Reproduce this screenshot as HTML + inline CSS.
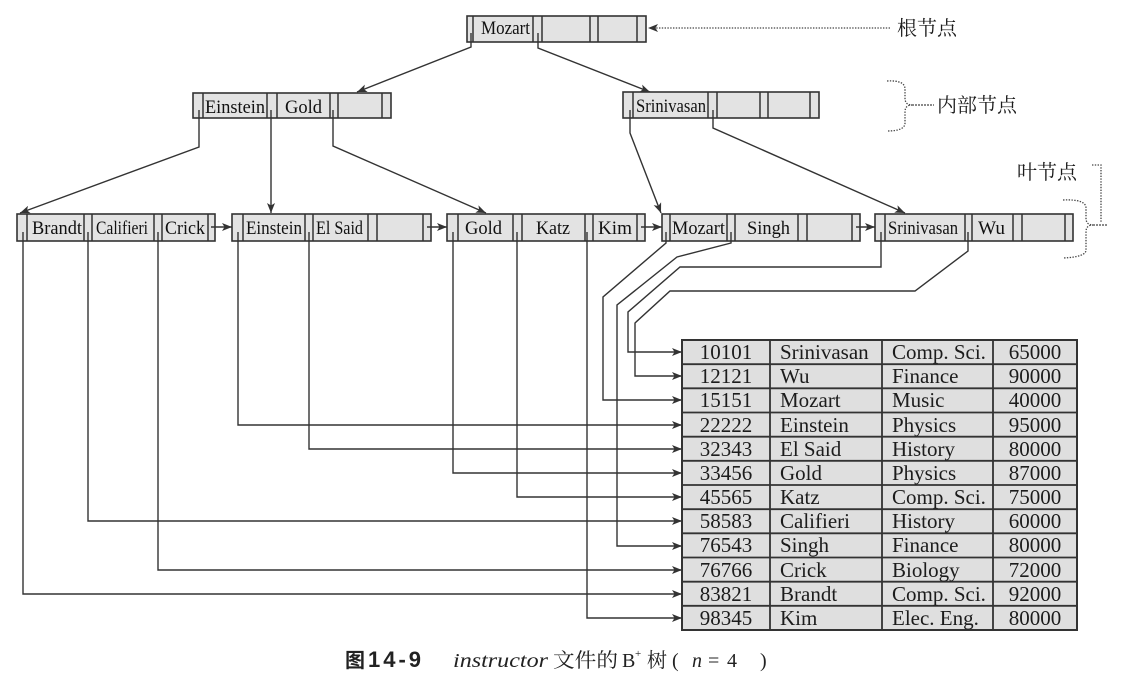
<!DOCTYPE html>
<html>
<head>
<meta charset="utf-8">
<style>
  html,body{margin:0;padding:0;background:#fff;}
  svg{display:block;}
  .k{font-family:"Liberation Serif","Noto Serif CJK SC",serif;font-size:19px;fill:#111;}
  .t{font-family:"Liberation Serif","Noto Serif CJK SC",serif;font-size:21px;fill:#1c1c1c;}
  .cj{font-family:"Liberation Serif","Noto Serif CJK SC",serif;font-size:20px;fill:#1c1c1c;}
  .nd{fill:#e3e3e3;stroke:#333;stroke-width:1.6;}
  .dv{stroke:#333;stroke-width:1.5;}
  .cn{fill:none;stroke:#333;stroke-width:1.4;}
  .dt{fill:none;stroke:#444;stroke-width:1.3;stroke-dasharray:1.4 1.4;}
</style>
</head>
<body>
<svg width="1130" height="688" viewBox="0 0 1130 688" xmlns="http://www.w3.org/2000/svg">
<defs>
  <marker id="ah" viewBox="0 0 10 8" refX="10" refY="4" markerWidth="10" markerHeight="8" markerUnits="userSpaceOnUse" orient="auto">
    <path d="M0,0 L10,4 L0,8 L2.5,4 z" fill="#333"/>
  </marker>
</defs>

<!-- Root node -->
<rect class="nd" x="467" y="16" width="179" height="26"/>
<g class="dv">
  <line x1="473" y1="16" x2="473" y2="42"/><line x1="533" y1="16" x2="533" y2="42"/>
  <line x1="542" y1="16" x2="542" y2="42"/><line x1="590" y1="16" x2="590" y2="42"/>
  <line x1="598" y1="16" x2="598" y2="42"/><line x1="637" y1="16" x2="637" y2="42"/>
</g>
<text class="k" x="481" y="34" textLength="49" lengthAdjust="spacingAndGlyphs">Mozart</text>

<!-- root label -->
<line class="dt" x1="890" y1="28" x2="656" y2="28"/>
<path d="M648,28 L658,24 L655.5,28 L658,32 z" fill="#333"/>
<text class="cj" x="897" y="35">根节点</text>

<!-- Internal node 1 -->
<rect class="nd" x="193" y="93" width="198" height="25"/>
<g class="dv">
  <line x1="203" y1="93" x2="203" y2="118"/><line x1="267" y1="93" x2="267" y2="118"/>
  <line x1="277" y1="93" x2="277" y2="118"/><line x1="330" y1="93" x2="330" y2="118"/>
  <line x1="338" y1="93" x2="338" y2="118"/><line x1="382" y1="93" x2="382" y2="118"/>
</g>
<text class="k" x="205" y="113" textLength="60" lengthAdjust="spacingAndGlyphs">Einstein</text>
<text class="k" x="285" y="113" textLength="37" lengthAdjust="spacingAndGlyphs">Gold</text>

<!-- Internal node 2 -->
<rect class="nd" x="623" y="92" width="196" height="26"/>
<g class="dv">
  <line x1="633" y1="92" x2="633" y2="118"/><line x1="708" y1="92" x2="708" y2="118"/>
  <line x1="717" y1="92" x2="717" y2="118"/><line x1="760" y1="92" x2="760" y2="118"/>
  <line x1="768" y1="92" x2="768" y2="118"/><line x1="810" y1="92" x2="810" y2="118"/>
</g>
<text class="k" x="636" y="112" textLength="70" lengthAdjust="spacingAndGlyphs">Srinivasan</text>

<!-- internal label brace -->
<path class="dt" d="M887,81 Q905,80 905,89 L905,98 Q905,105 912,105 Q905,105 905,112 L905,123 Q905,131 887,131"/>
<line x1="912" y1="105" x2="934" y2="105" stroke="#444" stroke-width="1.2" stroke-dasharray="2 1"/>
<text class="cj" x="937" y="112">内部节点</text>

<!-- Leaf 1 -->
<rect class="nd" x="17" y="214" width="198" height="27"/>
<g class="dv">
  <line x1="27" y1="214" x2="27" y2="241"/><line x1="84" y1="214" x2="84" y2="241"/>
  <line x1="92" y1="214" x2="92" y2="241"/><line x1="154" y1="214" x2="154" y2="241"/>
  <line x1="162" y1="214" x2="162" y2="241"/><line x1="208" y1="214" x2="208" y2="241"/>
</g>
<text class="k" x="32" y="234" textLength="50" lengthAdjust="spacingAndGlyphs">Brandt</text>
<text class="k" x="96" y="234" textLength="52" lengthAdjust="spacingAndGlyphs">Califieri</text>
<text class="k" x="165" y="234" textLength="40" lengthAdjust="spacingAndGlyphs">Crick</text>

<!-- Leaf 2 -->
<rect class="nd" x="232" y="214" width="199" height="27"/>
<g class="dv">
  <line x1="243" y1="214" x2="243" y2="241"/><line x1="305" y1="214" x2="305" y2="241"/>
  <line x1="313" y1="214" x2="313" y2="241"/><line x1="368" y1="214" x2="368" y2="241"/>
  <line x1="377" y1="214" x2="377" y2="241"/><line x1="423" y1="214" x2="423" y2="241"/>
</g>
<text class="k" x="246" y="234" textLength="56" lengthAdjust="spacingAndGlyphs">Einstein</text>
<text class="k" x="316" y="234" textLength="47" lengthAdjust="spacingAndGlyphs">El Said</text>

<!-- Leaf 3 -->
<rect class="nd" x="447" y="214" width="198" height="27"/>
<g class="dv">
  <line x1="458" y1="214" x2="458" y2="241"/><line x1="513" y1="214" x2="513" y2="241"/>
  <line x1="522" y1="214" x2="522" y2="241"/><line x1="585" y1="214" x2="585" y2="241"/>
  <line x1="593" y1="214" x2="593" y2="241"/><line x1="637" y1="214" x2="637" y2="241"/>
</g>
<text class="k" x="465" y="234" textLength="37" lengthAdjust="spacingAndGlyphs">Gold</text>
<text class="k" x="536" y="234" textLength="34" lengthAdjust="spacingAndGlyphs">Katz</text>
<text class="k" x="598" y="234" textLength="34" lengthAdjust="spacingAndGlyphs">Kim</text>

<!-- Leaf 4 -->
<rect class="nd" x="662" y="214" width="198" height="27"/>
<g class="dv">
  <line x1="670" y1="214" x2="670" y2="241"/><line x1="727" y1="214" x2="727" y2="241"/>
  <line x1="735" y1="214" x2="735" y2="241"/><line x1="798" y1="214" x2="798" y2="241"/>
  <line x1="807" y1="214" x2="807" y2="241"/><line x1="852" y1="214" x2="852" y2="241"/>
</g>
<text class="k" x="672" y="234" textLength="53" lengthAdjust="spacingAndGlyphs">Mozart</text>
<text class="k" x="747" y="234" textLength="43" lengthAdjust="spacingAndGlyphs">Singh</text>

<!-- Leaf 5 -->
<rect class="nd" x="875" y="214" width="198" height="27"/>
<g class="dv">
  <line x1="885" y1="214" x2="885" y2="241"/><line x1="965" y1="214" x2="965" y2="241"/>
  <line x1="972" y1="214" x2="972" y2="241"/><line x1="1013" y1="214" x2="1013" y2="241"/>
  <line x1="1022" y1="214" x2="1022" y2="241"/><line x1="1065" y1="214" x2="1065" y2="241"/>
</g>
<text class="k" x="888" y="234" textLength="70" lengthAdjust="spacingAndGlyphs">Srinivasan</text>
<text class="k" x="978" y="234" textLength="27" lengthAdjust="spacingAndGlyphs">Wu</text>

<!-- leaf label -->
<text class="cj" x="1017" y="179">叶节点</text>
<path class="dt" d="M1092,165 L1101,165 L1101,222"/>
<path class="dt" d="M1063,200 Q1086,199 1086,208 L1086,218 Q1086,225 1093,225 Q1086,225 1086,232 L1086,250 Q1086,257 1063,258"/>
<line x1="1093" y1="225" x2="1108" y2="225" stroke="#444" stroke-width="1.2" stroke-dasharray="2 1"/>

<!-- Leaf next pointers -->
<g class="cn">
  <line x1="211" y1="227" x2="232" y2="227" marker-end="url(#ah)"/>
  <line x1="427" y1="227" x2="447" y2="227" marker-end="url(#ah)"/>
  <line x1="641" y1="227" x2="662" y2="227" marker-end="url(#ah)"/>
  <line x1="856" y1="227" x2="875" y2="227" marker-end="url(#ah)"/>
</g>

<!-- Tree connectors -->
<g class="cn">
  <polyline points="471,33 471,47 357,92" marker-end="url(#ah)"/>
  <polyline points="538,33 538,48 650,92" marker-end="url(#ah)"/>
  <polyline points="199,110 199,147 20,213" marker-end="url(#ah)"/>
  <polyline points="271,110 271,213" marker-end="url(#ah)"/>
  <polyline points="333,110 333,146 486,213" marker-end="url(#ah)"/>
  <polyline points="630,110 630,133 661,213" marker-end="url(#ah)"/>
  <polyline points="713,110 713,128 905,213" marker-end="url(#ah)"/>
</g>

<!-- Leaf to record connectors -->
<g class="cn">
  <polyline points="23,232 23,594 682,594" marker-end="url(#ah)"/>
  <polyline points="88,232 88,521 682,521" marker-end="url(#ah)"/>
  <polyline points="158,232 158,570 682,570" marker-end="url(#ah)"/>
  <polyline points="238,232 238,425 682,425" marker-end="url(#ah)"/>
  <polyline points="309,232 309,449 682,449" marker-end="url(#ah)"/>
  <polyline points="453,232 453,473 682,473" marker-end="url(#ah)"/>
  <polyline points="517,232 517,497 682,497" marker-end="url(#ah)"/>
  <polyline points="587,232 587,618 682,618" marker-end="url(#ah)"/>
  <polyline points="666,232 666,243 603,297 603,400 682,400" marker-end="url(#ah)"/>
  <polyline points="731,232 731,243 677,257 617,305 617,546 682,546" marker-end="url(#ah)"/>
  <polyline points="881,232 881,267 680,267 628,312 628,352 682,352" marker-end="url(#ah)"/>
  <polyline points="968,232 968,251 915,291 670,291 635,323 635,376 682,376" marker-end="url(#ah)"/>
</g>

<!-- Table -->
<rect x="682" y="340" width="395" height="290" fill="#dfdfdf" stroke="#333" stroke-width="2"/>
<g stroke="#333" stroke-width="1.8">
  <line x1="770" y1="340" x2="770" y2="630"/>
  <line x1="882" y1="340" x2="882" y2="630"/>
  <line x1="993" y1="340" x2="993" y2="630"/>
  <line x1="682" y1="364.2" x2="1077" y2="364.2"/>
  <line x1="682" y1="388.3" x2="1077" y2="388.3"/>
  <line x1="682" y1="412.5" x2="1077" y2="412.5"/>
  <line x1="682" y1="436.7" x2="1077" y2="436.7"/>
  <line x1="682" y1="460.8" x2="1077" y2="460.8"/>
  <line x1="682" y1="485" x2="1077" y2="485"/>
  <line x1="682" y1="509.2" x2="1077" y2="509.2"/>
  <line x1="682" y1="533.3" x2="1077" y2="533.3"/>
  <line x1="682" y1="557.5" x2="1077" y2="557.5"/>
  <line x1="682" y1="581.7" x2="1077" y2="581.7"/>
  <line x1="682" y1="605.8" x2="1077" y2="605.8"/>
</g>
<g class="t">
  <g text-anchor="middle">
    <text x="726" y="359">10101</text><text x="726" y="383">12121</text><text x="726" y="407">15151</text>
    <text x="726" y="432">22222</text><text x="726" y="456">32343</text><text x="726" y="480">33456</text>
    <text x="726" y="504">45565</text><text x="726" y="528">58583</text><text x="726" y="552">76543</text>
    <text x="726" y="577">76766</text><text x="726" y="601">83821</text><text x="726" y="625">98345</text>
    <text x="1035" y="359">65000</text><text x="1035" y="383">90000</text><text x="1035" y="407">40000</text>
    <text x="1035" y="432">95000</text><text x="1035" y="456">80000</text><text x="1035" y="480">87000</text>
    <text x="1035" y="504">75000</text><text x="1035" y="528">60000</text><text x="1035" y="552">80000</text>
    <text x="1035" y="577">72000</text><text x="1035" y="601">92000</text><text x="1035" y="625">80000</text>
  </g>
  <text x="780" y="359">Srinivasan</text><text x="780" y="383">Wu</text><text x="780" y="407">Mozart</text>
  <text x="780" y="432">Einstein</text><text x="780" y="456">El Said</text><text x="780" y="480">Gold</text>
  <text x="780" y="504">Katz</text><text x="780" y="528">Califieri</text><text x="780" y="552">Singh</text>
  <text x="780" y="577">Crick</text><text x="780" y="601">Brandt</text><text x="780" y="625">Kim</text>
  <text x="892" y="359">Comp. Sci.</text><text x="892" y="383">Finance</text><text x="892" y="407">Music</text>
  <text x="892" y="432">Physics</text><text x="892" y="456">History</text><text x="892" y="480">Physics</text>
  <text x="892" y="504">Comp. Sci.</text><text x="892" y="528">History</text><text x="892" y="552">Finance</text>
  <text x="892" y="577">Biology</text><text x="892" y="601">Comp. Sci.</text><text x="892" y="625">Elec. Eng.</text>
</g>

<!-- Caption -->
<g fill="#222">
  <text x="345" y="667" style="font-family:'Liberation Sans','Noto Sans CJK SC',sans-serif;font-size:20px;font-weight:bold;">图</text>
  <text x="368" y="667" style="font-family:'Liberation Sans',sans-serif;font-size:22px;font-weight:bold;letter-spacing:3px;">14-9</text>
  <text x="453" y="667" textLength="95" lengthAdjust="spacingAndGlyphs" style="font-family:'Liberation Serif',serif;font-size:20px;font-style:italic;">instructor</text>
  <text x="553" y="667" textLength="65" lengthAdjust="spacingAndGlyphs" style="font-family:'Liberation Serif','Noto Serif CJK SC',serif;font-size:20px;">文件的</text>
  <text x="622" y="667" style="font-family:'Liberation Serif',serif;font-size:20px;">B</text>
  <text x="635" y="657" style="font-family:'Liberation Serif',serif;font-size:11px;">+</text>
  <text x="647" y="667" style="font-family:'Liberation Serif','Noto Serif CJK SC',serif;font-size:20px;">树</text>
  <text x="672" y="667" style="font-family:'Liberation Serif',serif;font-size:20px;">(</text>
  <text x="692" y="667" style="font-family:'Liberation Serif',serif;font-size:20px;font-style:italic;">n</text>
  <text x="708" y="667" style="font-family:'Liberation Serif',serif;font-size:20px;">=</text>
  <text x="727" y="667" style="font-family:'Liberation Serif',serif;font-size:20px;">4</text>
  <text x="760" y="667" style="font-family:'Liberation Serif',serif;font-size:20px;">)</text>
</g>
</svg>
</body>
</html>
